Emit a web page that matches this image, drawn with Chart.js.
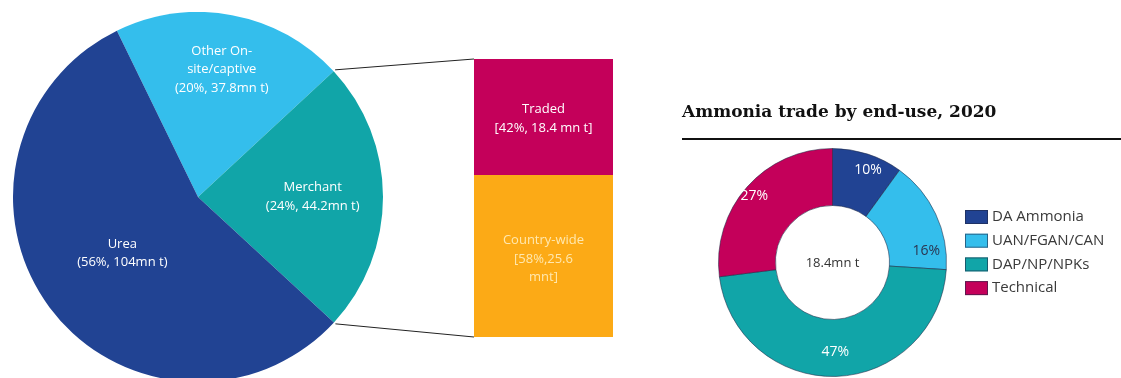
<!DOCTYPE html>
<html>
<head>
<meta charset="utf-8">
<script src="https://cdn.jsdelivr.net/npm/chart.js@4.4.1/dist/chart.umd.min.js"></script>
<style>
  html, body { margin: 0; padding: 0; background: #fff; overflow: hidden; }
  body { width: 1121px; height: 378px; position: relative; }
  canvas { position: absolute; }
</style>
</head>
<body>
<canvas id="pie" width="370" height="370" style="left:13px;top:12px"></canvas>
<canvas id="split" width="290" height="300" style="left:330px;top:50px"></canvas>
<canvas id="enduse" width="451" height="290" style="left:670px;top:90px"></canvas>
<script>
// ammonia demand split, mn t
const pieLabels = ['Other On-site/captive', 'Merchant', 'Urea'];
const pieValues = [37.8, 44.2, 104];
const pieText = [
    ['Other On-', 'site/captive', '(20%, 37.8mn t)'],
    ['Merchant', '(24%, 44.2mn t)'],
    ['Urea', '(56%, 104mn t)']
];

// merchant ammonia, mn t (bottom first, stacked)
const splitLabels = ['Country-wide', 'Traded'];
const splitValues = [25.6, 18.4];
const splitText = [
    ['Country-wide', '[58%,25.6', 'mnt]'],
    ['Traded', '[42%, 18.4 mn t]']
];

// traded ammonia by end-use, %
const endUseTitle = 'Ammonia trade by end-use, 2020';
const endUseLabels = ['DA Ammonia', 'UAN/FGAN/CAN', 'DAP/NP/NPKs', 'Technical'];
const endUseShares = [10, 16, 47, 27];
const endUseCenter = '18.4mn t';

const FONT = "'Open Sans', sans-serif";
const BLUE = 'rgb(33,67,147)';
const SKY = 'rgb(52,190,236)';
const TEAL = 'rgb(17,165,168)';
const MAGENTA = 'rgb(196,0,90)';
const ORANGE = 'rgb(252,170,22)';

Chart.defaults.font.family = FONT;
Chart.defaults.animation = false;

function drawLines(ctx, lines, x, y, lh) {
    const top = y - (lines.length - 1) * lh / 2;
    lines.forEach((t, i) => ctx.fillText(t, x, top + i * lh));
}

// pie slice labels sit on the mid angle, at a fraction of the radius
const pieLabelPlugin = {
    id: 'pieLabels',
    afterDatasetsDraw(chart, args, opts) {
        const ctx = chart.ctx;
        const arcs = chart.getDatasetMeta(0).data;
        ctx.save();
        ctx.font = '13px ' + FONT;
        ctx.fillStyle = '#fff';
        ctx.textAlign = 'center';
        ctx.textBaseline = 'middle';
        arcs.forEach((arc, i) => {
            const mid = (arc.startAngle + arc.endAngle) / 2;
            const r = arc.outerRadius * opts.radius[i];
            drawLines(ctx, pieText[i], arc.x + Math.cos(mid) * r, arc.y + Math.sin(mid) * r, 18.5);
        });
        ctx.restore();
    }
};

const pieChart = new Chart(document.getElementById('pie'), {
    type: 'pie',
    data: {
        labels: pieLabels,
        datasets: [{
            data: pieValues,
            backgroundColor: [SKY, TEAL, BLUE],
            borderWidth: 0,
            hoverOffset: 0
        }]
    },
    options: {
        responsive: false,
        rotation: -26,
        layout: {padding: 0},
        plugins: {
            legend: {display: false},
            tooltip: {enabled: false},
            pieLabels: {radius: [0.7, 0.62, 0.51]}
        }
    },
    plugins: [pieLabelPlugin]
});

// bar labels + the two lines running back to the merchant slice
const splitPlugin = {
    id: 'splitDecor',
    afterDatasetsDraw(chart) {
        const ctx = chart.ctx;
        const bottom = chart.getDatasetMeta(0).data[0];
        const top = chart.getDatasetMeta(1).data[0];
        const left = top.x - top.width / 2;

        const merchant = pieChart.getDatasetMeta(0).data[1];
        const pc = pieChart.canvas, bc = chart.canvas;
        const dx = pc.offsetLeft - bc.offsetLeft, dy = pc.offsetTop - bc.offsetTop;
        const edge = a => [
            merchant.x + Math.cos(a) * (merchant.outerRadius + 2) + dx,
            merchant.y + Math.sin(a) * (merchant.outerRadius + 2) + dy
        ];
        const p1 = edge(merchant.startAngle), p2 = edge(merchant.endAngle);

        ctx.save();
        ctx.strokeStyle = '#222';
        ctx.lineWidth = 1;
        ctx.beginPath();
        ctx.moveTo(p1[0], p1[1]);
        ctx.lineTo(left, top.y);
        ctx.moveTo(p2[0], p2[1]);
        ctx.lineTo(left, bottom.base);
        ctx.stroke();

        ctx.font = '13px ' + FONT;
        ctx.textAlign = 'center';
        ctx.textBaseline = 'middle';
        ctx.fillStyle = '#fff';
        drawLines(ctx, splitText[1], top.x, (top.y + top.base) / 2 + 2, 19);
        ctx.fillStyle = 'rgb(255,232,175)';
        drawLines(ctx, splitText[0], bottom.x, (bottom.y + bottom.base) / 2 + 3, 18.5);
        ctx.restore();
    }
};

new Chart(document.getElementById('split'), {
    type: 'bar',
    data: {
        labels: ['Merchant'],
        datasets: splitLabels.map((l, i) => ({
            label: l,
            data: [splitValues[i]],
            backgroundColor: [ORANGE, MAGENTA][i],
            borderWidth: 0,
            barPercentage: 1,
            categoryPercentage: 1
        }))
    },
    options: {
        responsive: false,
        layout: {padding: {left: 144, right: 7, top: 9, bottom: 13}},
        scales: {
            x: {display: false, stacked: true},
            y: {display: false, stacked: true, min: 0, max: splitValues.reduce((a, b) => a + b)}
        },
        plugins: {legend: {display: false}, tooltip: {enabled: false}}
    },
    plugins: [splitPlugin]
});

// doughnut title, slice percentages, centre total and legend
const endUsePlugin = {
    id: 'endUseDecor',
    afterDatasetsDraw(chart, args, opts) {
        const ctx = chart.ctx;
        const arcs = chart.getDatasetMeta(0).data;
        const colors = chart.data.datasets[0].backgroundColor;
        ctx.save();

        ctx.fillStyle = '#111';
        ctx.font = "bold 17px 'DejaVu Serif', serif";
        ctx.textBaseline = 'middle';
        ctx.fillText(endUseTitle, 12, 23);
        ctx.fillRect(12, 48, chart.width - 12, 2);

        ctx.font = '14px ' + FONT;
        ctx.textAlign = 'center';
        arcs.forEach((arc, i) => {
            const mid = (arc.startAngle + arc.endAngle) / 2 + opts.shift[i] * Math.PI / 180;
            const r = arc.outerRadius * opts.radius[i];
            ctx.fillStyle = opts.textColor[i];
            ctx.fillText(endUseShares[i] + '%', arc.x + Math.cos(mid) * r, arc.y + Math.sin(mid) * r);
        });

        ctx.fillStyle = '#333';
        ctx.font = '13px ' + FONT;
        ctx.fillText(endUseCenter, arcs[0].x, arcs[0].y + 1);

        ctx.textAlign = 'left';
        ctx.font = '15px ' + FONT;
        ctx.strokeStyle = 'rgba(30,40,70,0.6)';
        ctx.lineWidth = 1;
        endUseLabels.forEach((l, i) => {
            const y = 127 + i * 23.7;
            ctx.fillStyle = colors[i];
            ctx.fillRect(295, y - 7, 23, 14);
            ctx.strokeRect(295.5, y - 6.5, 22, 13);
            ctx.fillStyle = '#3a3a3a';
            ctx.fillText(l, 322, y);
        });
        ctx.restore();
    }
};

new Chart(document.getElementById('enduse'), {
    type: 'doughnut',
    data: {
        labels: endUseLabels,
        datasets: [{
            data: endUseShares,
            backgroundColor: [BLUE, SKY, TEAL, MAGENTA],
            borderColor: 'rgba(30,40,70,0.55)',
            borderWidth: 1,
            hoverOffset: 0
        }]
    },
    options: {
        responsive: false,
        cutout: '50%',
        layout: {padding: {left: 48, top: 58, right: 174, bottom: 3}},
        plugins: {
            legend: {display: false},
            tooltip: {enabled: false},
            endUseDecor: {
                radius: [0.87, 0.83, 0.79, 0.9],
                shift: [3, 18, 0, -1],
                textColor: ['#fff', '#2b3550', '#fff', '#fff']
            }
        }
    },
    plugins: [endUsePlugin]
});
</script>
</body>
</html>
